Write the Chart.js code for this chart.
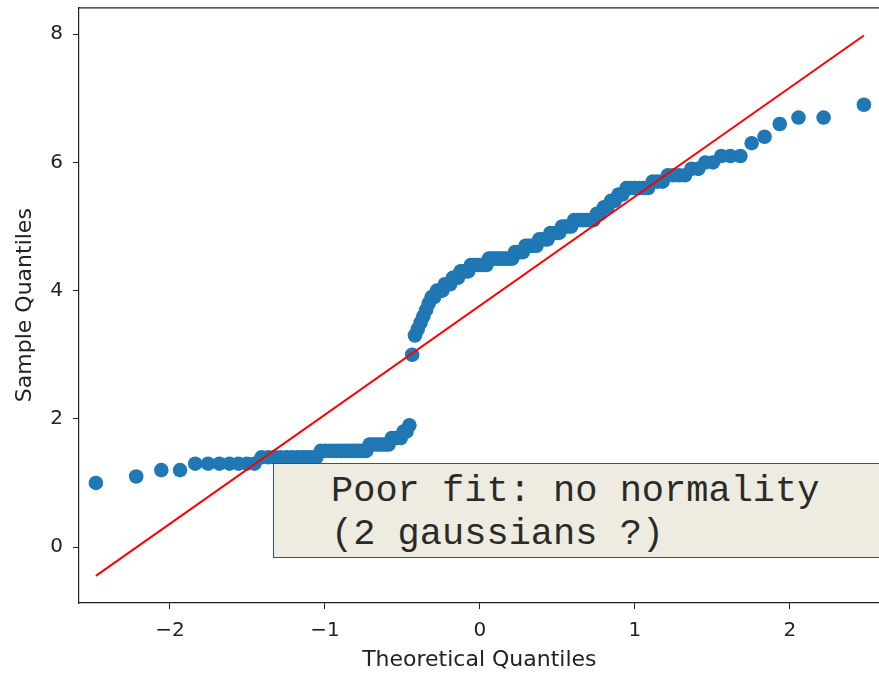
<!DOCTYPE html>
<html>
<head>
<meta charset="utf-8">
<script src="https://cdn.jsdelivr.net/npm/chart.js@4/dist/chart.umd.min.js"></script>
<style>
    html, body { margin: 0; padding: 0; background: #fff; overflow: hidden; }
    #wrap { position: relative; width: 879px; height: 673px; overflow: hidden; }
    #note {
        position: absolute;
        left: 273px;
        top: 463px;
        width: 640px;
        height: 95px;
        background: #eeece1;
        border: 1.5px solid #2f528f;
        font-family: "Courier New", "Liberation Mono", monospace;
        font-size: 37px;
        line-height: 43px;
        color: #2a2a2a;
        padding: 6px 0 0 57px;
        box-sizing: border-box;
        white-space: pre;
    }
</style>
</head>
<body>
<div id="wrap">
    <canvas id="qq" width="887" height="673"></canvas>
    <div id="note">Poor fit: no normality
(2 gaussians ?)</div>
</div>
<script>
// theoretical quantiles (150 samples)
const theoretical = [
    -2.478, -2.218, -2.056, -1.935, -1.837, -1.754, -1.681, -1.616, -1.558, -1.504,
    -1.455, -1.409, -1.365, -1.324, -1.286, -1.248, -1.213, -1.179, -1.146, -1.115,
    -1.085, -1.055, -1.027, -0.999, -0.972, -0.946, -0.920, -0.895, -0.870, -0.846,
    -0.823, -0.800, -0.777, -0.755, -0.733, -0.711, -0.690, -0.669, -0.649, -0.628,
    -0.608, -0.589, -0.569, -0.550, -0.531, -0.511, -0.493, -0.474, -0.455, -0.437,
    -0.419, -0.401, -0.383, -0.365, -0.347, -0.330, -0.312, -0.295, -0.277, -0.260,
    -0.243, -0.226, -0.209, -0.192, -0.175, -0.158, -0.142, -0.125, -0.108, -0.092,
    -0.075, -0.058, -0.042, -0.025, -0.008, 0.008, 0.025, 0.042, 0.058, 0.075,
    0.092, 0.108, 0.125, 0.142, 0.158, 0.175, 0.192, 0.209, 0.226, 0.243,
    0.260, 0.277, 0.295, 0.312, 0.330, 0.347, 0.365, 0.383, 0.401, 0.419,
    0.437, 0.455, 0.474, 0.493, 0.511, 0.531, 0.550, 0.569, 0.589, 0.608,
    0.628, 0.649, 0.669, 0.690, 0.711, 0.733, 0.755, 0.777, 0.800, 0.823,
    0.846, 0.870, 0.895, 0.920, 0.946, 0.972, 0.999, 1.027, 1.055, 1.085,
    1.115, 1.146, 1.179, 1.213, 1.248, 1.286, 1.324, 1.365, 1.409, 1.455,
    1.504, 1.558, 1.616, 1.681, 1.754, 1.837, 1.935, 2.056, 2.218, 2.478
];

// sorted sample values
const sample = [
    1.0, 1.1, 1.2, 1.2, 1.3, 1.3, 1.3, 1.3, 1.3, 1.3,
    1.3, 1.4, 1.4, 1.4, 1.4, 1.4, 1.4, 1.4, 1.4, 1.4,
    1.4, 1.4, 1.5, 1.5, 1.5, 1.5, 1.5, 1.5, 1.5, 1.5,
    1.5, 1.5, 1.5, 1.5, 1.5, 1.6, 1.6, 1.6, 1.6, 1.6,
    1.6, 1.6, 1.7, 1.7, 1.7, 1.7, 1.8, 1.8, 1.9, 3.0,
    3.3, 3.4, 3.5, 3.6, 3.7, 3.8, 3.9, 3.9, 4.0, 4.0,
    4.0, 4.1, 4.1, 4.1, 4.2, 4.2, 4.2, 4.3, 4.3, 4.3,
    4.3, 4.4, 4.4, 4.4, 4.4, 4.4, 4.4, 4.4, 4.5, 4.5,
    4.5, 4.5, 4.5, 4.5, 4.5, 4.5, 4.5, 4.5, 4.6, 4.6,
    4.6, 4.6, 4.7, 4.7, 4.7, 4.7, 4.7, 4.8, 4.8, 4.8,
    4.8, 4.9, 4.9, 4.9, 4.9, 5.0, 5.0, 5.0, 5.0, 5.1,
    5.1, 5.1, 5.1, 5.1, 5.1, 5.1, 5.2, 5.2, 5.3, 5.3,
    5.4, 5.4, 5.5, 5.5, 5.6, 5.6, 5.6, 5.6, 5.6, 5.6,
    5.7, 5.7, 5.7, 5.8, 5.8, 5.8, 5.8, 5.9, 5.9, 6.0,
    6.0, 6.1, 6.1, 6.1, 6.3, 6.4, 6.6, 6.7, 6.7, 6.9
];

// reference line end points
const lineX = [-2.478, 2.478];
const lineY = [-0.45, 7.98];

const xTicks = [-2, -1, 0, 1, 2];
const yTicks = [0, 2, 4, 6, 8];

const tickFont = { family: 'DejaVu Sans', size: 20 };
const titleFont = { family: 'DejaVu Sans', size: 22 };
const axisColor = '#222';

// top spine (matplotlib frame)
const framePlugin = {
    id: 'frame',
    afterDraw(chart) {
        const { ctx, chartArea } = chart;
        ctx.save();
        ctx.strokeStyle = axisColor;
        ctx.lineWidth = 1.2;
        ctx.beginPath();
        ctx.moveTo(chartArea.left, chartArea.top + 0.5);
        ctx.lineTo(chartArea.right + 10, chartArea.top + 0.5);
        ctx.stroke();
        ctx.restore();
    }
};

new Chart(document.getElementById('qq').getContext('2d'), {
    type: 'scatter',
    data: {
        datasets: [{
            type: 'line',
            data: lineX.map((x, i) => ({ x: x, y: lineY[i] })),
            borderColor: '#ff0000',
            borderWidth: 2,
            pointRadius: 0,
            fill: false
        }, {
            data: theoretical.map((x, i) => ({ x: x, y: sample[i] })),
            backgroundColor: '#1f77b4',
            borderColor: '#1f77b4',
            borderWidth: 0,
            pointRadius: 7.3
        }]
    },
    options: {
        responsive: false,
        animation: false,
        layout: { padding: { top: 5, right: 0, left: 0, bottom: 0 } },
        plugins: {
            legend: { display: false },
            tooltip: { enabled: false }
        },
        scales: {
            x: {
                type: 'linear',
                min: -2.587,
                max: 2.58,
                afterFit: (s) => {
                    s.height = 70;
                    s.paddingLeft = 0;
                    s.paddingRight = 0;
                },
                afterBuildTicks: (s) => { s.ticks = xTicks.map(v => ({ value: v })); },
                border: { color: axisColor, width: 1.2 },
                grid: { drawOnChartArea: false, drawTicks: true, tickLength: 6, color: axisColor },
                ticks: {
                    color: axisColor,
                    font: tickFont,
                    padding: 10,
                    callback: (v) => String(v).replace('-', '\u2212')
                },
                title: {
                    display: true,
                    text: 'Theoretical Quantiles',
                    color: axisColor,
                    font: titleFont,
                    padding: { top: 0, bottom: 0 }
                }
            },
            y: {
                min: -0.873,
                max: 8.42,
                afterFit: (s) => {
                    s.width = 79;
                    s.paddingTop = 0;
                    s.paddingBottom = 0;
                },
                afterBuildTicks: (s) => { s.ticks = yTicks.map(v => ({ value: v })); },
                border: { color: axisColor, width: 1.2 },
                grid: { drawOnChartArea: false, drawTicks: true, tickLength: 6, color: axisColor },
                ticks: {
                    color: axisColor,
                    font: tickFont,
                    padding: 10
                },
                title: {
                    display: true,
                    text: 'Sample Quantiles',
                    color: axisColor,
                    font: titleFont,
                    padding: { top: 12, bottom: 0 }
                }
            }
        }
    },
    plugins: [framePlugin]
});
</script>
</body>
</html>
